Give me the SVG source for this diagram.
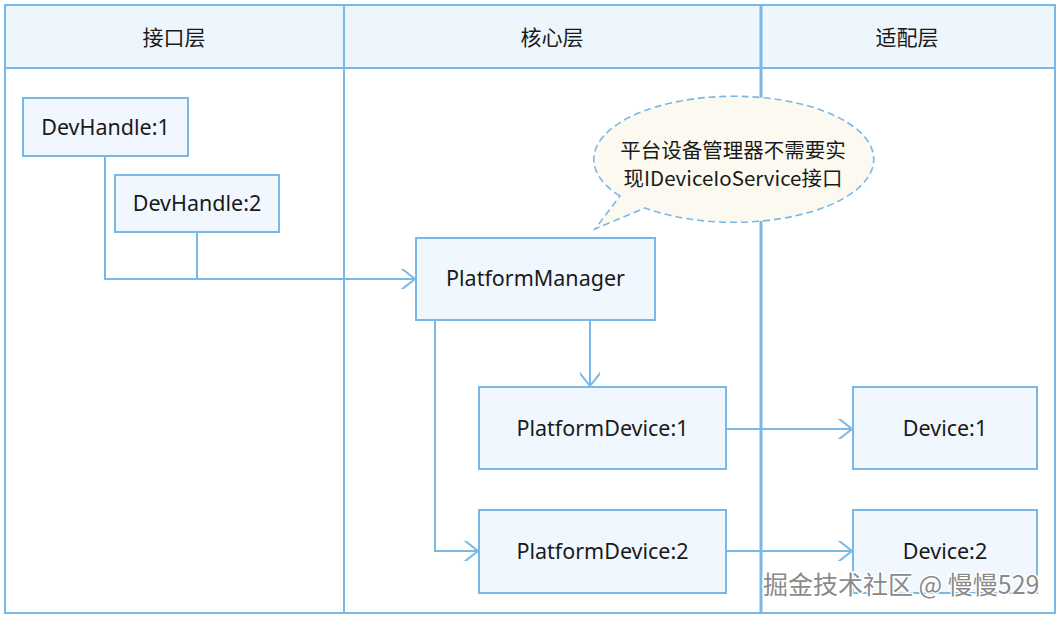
<svg xmlns="http://www.w3.org/2000/svg" width="1059" height="619" viewBox="0 0 1059 619">
<defs>
<style>
.ln{fill:none;stroke:#7ab8e6;stroke-width:2}
.box{fill:#f0f7fe;stroke:#7ab8e6;stroke-width:2}
.hdr{fill:#eef6fd;stroke:#7ab8e6;stroke-width:2}
.t{font-family:"Noto Sans","Noto Sans CJK SC",sans-serif;font-size:21.5px;fill:#1a1a1a;text-anchor:middle}
.h{font-family:"Noto Sans CJK SC",sans-serif;font-size:21px;fill:#1a1a1a;text-anchor:middle}
.c{font-family:"Noto Sans CJK SC","Noto Sans",sans-serif;font-size:20.5px;fill:#1a1a1a;text-anchor:middle}
.wm{font-family:"Noto Sans CJK SC",sans-serif;font-size:25px;fill:#8a8a8a;stroke:#ffffff;stroke-width:3;paint-order:stroke;text-anchor:start}
</style>
<marker id="arr" markerWidth="20" markerHeight="20" refX="18" refY="10" orient="auto" markerUnits="userSpaceOnUse">
<path d="M4,-1 L18,10 L4,21" fill="none" stroke="#7ab8e6" stroke-width="2"/>
</marker>
</defs>
<rect x="0" y="0" width="1059" height="619" fill="#ffffff"/>
<g id="lanes">
<rect x="5" y="5" width="1050" height="608" fill="#ffffff" stroke="#7ab8e6" stroke-width="2"/>
<rect class="hdr" x="5" y="5" width="1050" height="63"/>
<line class="ln" x1="344" y1="5" x2="344" y2="613"/>
<line class="ln" x1="761" y1="5" x2="761" y2="613" style="stroke-width:3"/>
<text class="h" x="174" y="45">接口层</text>
<text class="h" x="552" y="45">核心层</text>
<text class="h" x="907" y="45">适配层</text>
</g>
<g id="connectors">
<polyline class="ln" points="105,156 105,279 415,279" marker-end="url(#arr)"/>
<line class="ln" x1="197" y1="232" x2="197" y2="279"/>
<line class="ln" x1="590" y1="320" x2="590" y2="386" marker-end="url(#arr)"/>
<polyline class="ln" points="435,320 435,551 478,551" marker-end="url(#arr)"/>
<line class="ln" x1="726" y1="429" x2="852" y2="429" marker-end="url(#arr)"/>
<line class="ln" x1="726" y1="551" x2="852" y2="551" marker-end="url(#arr)"/>
</g>
<g id="devhandle1"><rect class="box" x="23" y="98" width="165" height="58"/><text class="t" x="105.5" y="135">DevHandle:1</text></g>
<g id="devhandle2"><rect class="box" x="115" y="175" width="164" height="57"/><text class="t" x="197" y="211">DevHandle:2</text></g>
<g id="platformmanager"><rect class="box" x="416" y="238" width="239" height="82"/><text class="t" x="535.5" y="286">PlatformManager</text></g>
<g id="platformdevice1"><rect class="box" x="479" y="387" width="247" height="82"/><text class="t" x="602.5" y="436">PlatformDevice:1</text></g>
<g id="platformdevice2"><rect class="box" x="479" y="510" width="247" height="83"/><text class="t" x="602.5" y="559">PlatformDevice:2</text></g>
<g id="device1"><rect class="box" x="853" y="387" width="184" height="82"/><text class="t" x="945" y="436">Device:1</text></g>
<g id="device2"><rect class="box" x="853" y="510" width="184" height="83"/><text class="t" x="945" y="559">Device:2</text></g>
<g id="callout">
<path d="M620,196 A140,63 0 1 1 645,208 L595,229 Z" fill="#fcfaf0" stroke="#7ab8e6" stroke-width="1.6" stroke-dasharray="7,4"/>
<text class="c" x="733" y="158">平台设备管理器不需要实</text>
<text class="c" x="733" y="186">现IDeviceIoService接口</text>
</g>
<text class="wm" x="763" y="594">掘金技术社区 @ 慢慢529</text>
</svg>
